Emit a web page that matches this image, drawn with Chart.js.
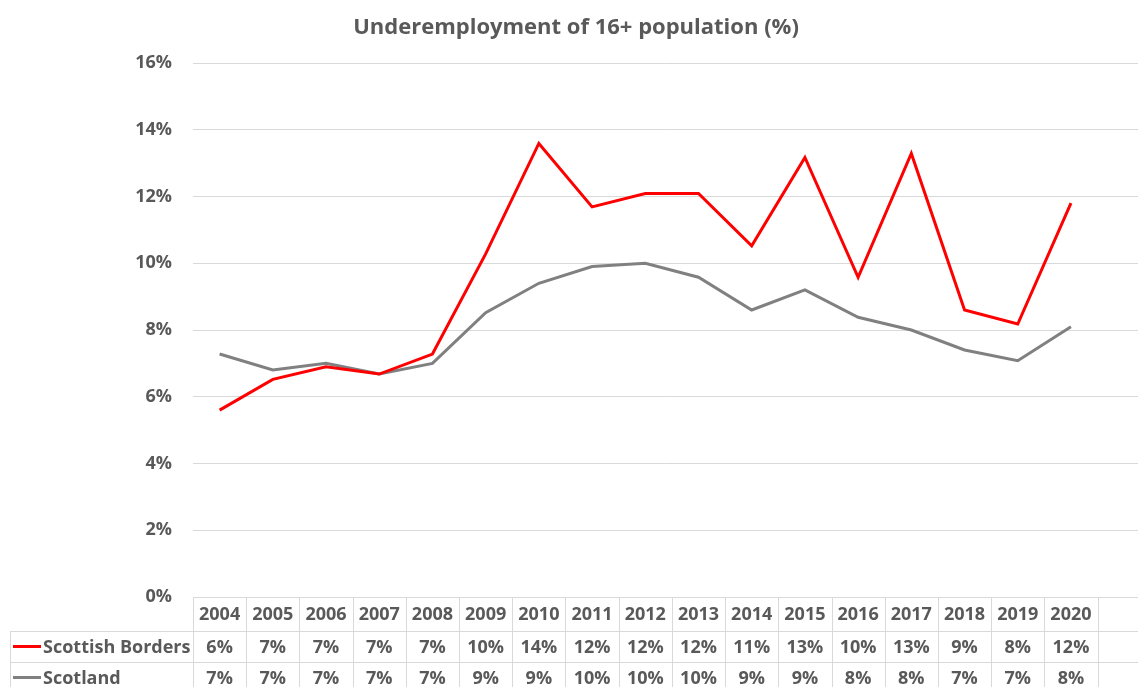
<!DOCTYPE html>
<html>
<head>
<meta charset="utf-8">
<script src="https://cdn.jsdelivr.net/npm/chart.js@4/dist/chart.umd.min.js"></script>
<style>
  html, body { margin: 0; padding: 0; background: #fff; }
  #wrap { width: 1139px; height: 687px; }
</style>
</head>
<body>
<div id="wrap"><canvas id="chartUnderemployment" width="1139" height="687"></canvas></div>
<script>
const years = ['2004', '2005', '2006', '2007', '2008', '2009', '2010', '2011', '2012',
               '2013', '2014', '2015', '2016', '2017', '2018', '2019', '2020'];
const borders = [5.6, 6.52, 6.9, 6.68, 7.28, 10.28, 13.59, 11.69, 12.09,
                 12.09, 10.52, 13.17, 9.58, 13.29, 8.6, 8.18, 11.8];
const scotland = [7.28, 6.8, 7.0, 6.68, 7.0, 8.52, 9.4, 9.9, 10.0,
                  9.58, 8.6, 9.2, 8.38, 8.0, 7.4, 7.08, 8.1];
const yTicks = [0, 2, 4, 6, 8, 10, 12, 14, 16];

const seriesNames = ['Scottish Borders', 'Scotland'];
const seriesColors = ['#ff0000', '#808080'];
const textColor = '#595959';
const lineColor = '#d9d9d9';
const font = 'bold 18px "Open Sans"';

const toPoints = arr => arr.map((v, i) => ({ x: i, y: v }));

// title + data table underneath the plot
const tablePlugin = {
    id: 'dataTable',
    afterDraw(chart) {
        const ctx = chart.ctx;
        const xs = chart.scales.x;
        const area = chart.chartArea;
        const top = area.bottom;
        const rows = [top, top + 34, top + 65, top + 96];
        const labelLeft = 10;

        ctx.save();
        ctx.fillStyle = textColor;
        ctx.font = 'bold 22px "Open Sans"';
        ctx.textAlign = 'center';
        ctx.textBaseline = 'middle';
        ctx.fillText('Underemployment of 16+ population (%)', 576, 28);

        ctx.strokeStyle = lineColor;
        ctx.lineWidth = 1;
        ctx.beginPath();
        ctx.moveTo(area.left, rows[0] + 0.5);
        ctx.lineTo(area.right, rows[0] + 0.5);
        for (let r = 1; r < 3; r++) {
            ctx.moveTo(labelLeft, rows[r] + 0.5);
            ctx.lineTo(area.right, rows[r] + 0.5);
        }
        ctx.moveTo(labelLeft + 0.5, rows[1]);
        ctx.lineTo(labelLeft + 0.5, rows[3]);
        for (let i = 0; i <= years.length; i++) {
            const x = Math.round(xs.getPixelForValue(i - 0.5)) + 0.5;
            ctx.moveTo(x, rows[0]);
            ctx.lineTo(x, rows[3]);
        }
        ctx.stroke();

        ctx.font = font;
        ctx.textAlign = 'center';
        years.forEach((yr, i) => {
            const x = xs.getPixelForValue(i);
            ctx.fillStyle = textColor;
            ctx.fillText(yr, x, (rows[0] + rows[1]) / 2 + 1);
            ctx.fillText(Math.round(borders[i]) + '%', x, (rows[1] + rows[2]) / 2 + 1);
            ctx.fillText(Math.round(scotland[i]) + '%', x, (rows[2] + rows[3]) / 2 + 1);
        });

        [borders, scotland].forEach((_, s) => {
            const cy = (rows[s + 1] + rows[s + 2]) / 2;
            ctx.strokeStyle = seriesColors[s];
            ctx.lineWidth = 3;
            ctx.beginPath();
            ctx.moveTo(13, cy);
            ctx.lineTo(41, cy);
            ctx.stroke();
            ctx.fillStyle = textColor;
            ctx.textAlign = 'left';
            ctx.fillText(seriesNames[s], 43, cy + 1);
        });
        ctx.restore();
    }
};

new Chart(document.getElementById('chartUnderemployment'), {
    type: 'line',
    data: {
        datasets: [{
            label: seriesNames[0],
            data: toPoints(borders),
            borderColor: seriesColors[0],
            borderWidth: 3,
            pointRadius: 0,
            tension: 0
        }, {
            label: seriesNames[1],
            data: toPoints(scotland),
            borderColor: seriesColors[1],
            borderWidth: 3,
            pointRadius: 0,
            tension: 0
        }]
    },
    options: {
        responsive: false,
        animation: false,
        layout: { padding: { top: 63, right: 1, bottom: 90, left: 0 } },
        plugins: {
            legend: { display: false },
            title: { display: false },
            tooltip: { enabled: false }
        },
        scales: {
            x: {
                type: 'linear',
                display: false,
                min: -0.5,
                max: 17.26
            },
            y: {
                min: 0,
                max: 16,
                afterFit: scale => { scale.width = 193; },
                afterBuildTicks: scale => { scale.ticks = yTicks.map(v => ({ value: v })); },
                border: { display: false },
                grid: { color: lineColor, lineWidth: 1, drawTicks: false },
                ticks: {
                    padding: 21,
                    color: textColor,
                    font: { family: 'Open Sans', size: 18, weight: 'bold' },
                    callback: v => v + '%'
                }
            }
        }
    },
    plugins: [tablePlugin]
});
</script>
</body>
</html>
